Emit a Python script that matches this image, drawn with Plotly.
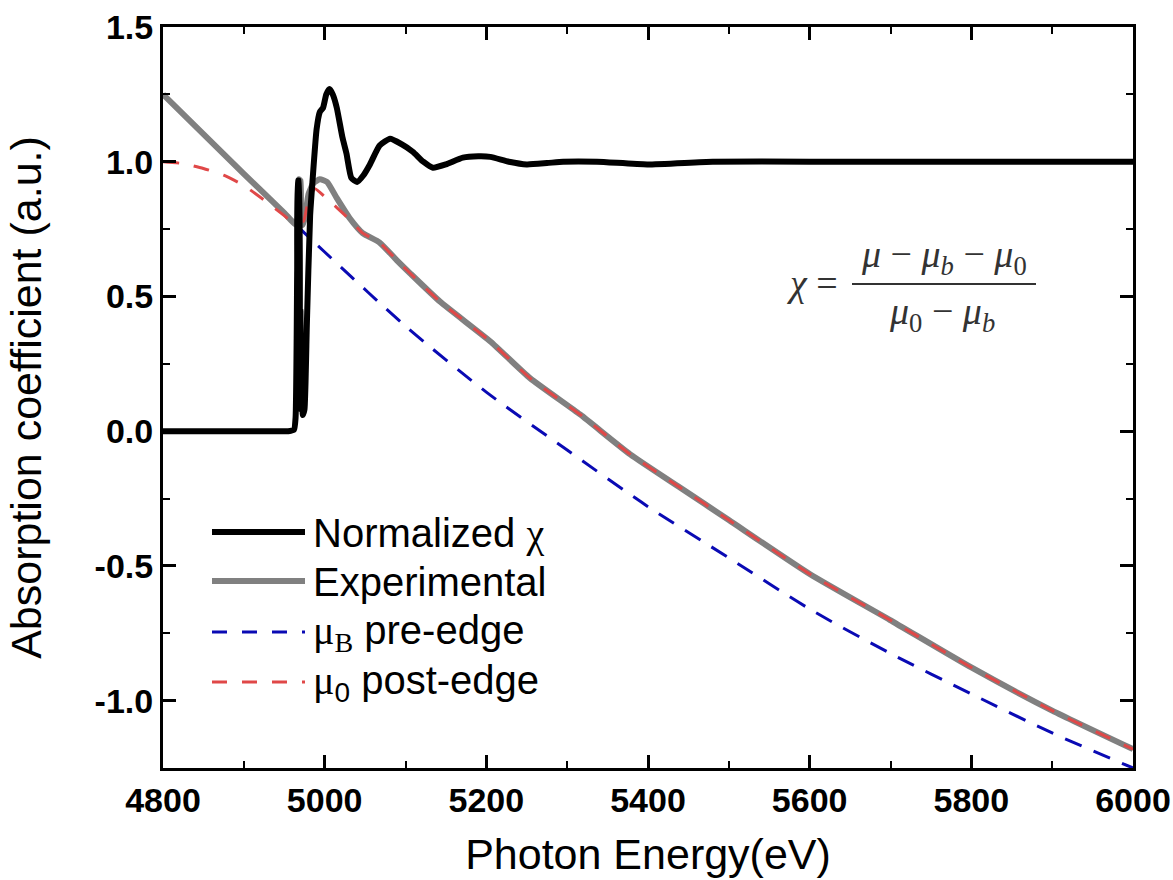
import plotly.graph_objects as go

# ---------------- data ----------------
energy_norm = [4800, 4900, 4955, 4962, 4964, 4966, 4967, 4968, 4969, 4970, 4971, 4972,
               4973, 4975, 4978, 4982, 4985, 4990, 4994, 4998, 5002, 5006, 5010, 5015,
               5022, 5027, 5033, 5040, 5048, 5056, 5068, 5081, 5095, 5109, 5122, 5134,
               5150, 5171, 5190, 5205, 5228, 5250, 5275, 5295, 5337, 5399, 5480, 5600,
               5700, 5800, 5900, 6000]
normalized_chi = [0.0, 0.0, 0.0, 0.005, 0.05, 0.6, 0.93, 0.93, 0.1, 0.45, 0.08, 0.35,
                  0.06, 0.08, 0.4, 0.8, 0.93, 1.12, 1.185, 1.2, 1.25, 1.27, 1.25, 1.2,
                  1.09, 1.03, 0.94, 0.925, 0.95, 0.99, 1.06, 1.085, 1.065, 1.037, 1.0, 0.978,
                  0.99, 1.015, 1.02, 1.018, 1.0, 0.99, 0.995, 1.0, 1.0, 0.99, 1.0, 1.0,
                  1.0, 1.0, 1.0, 1.0]

energy_exp = [4800, 4900, 4950, 4965, 4967, 4968, 4970, 4971, 4973, 4976, 4980, 4986,
              4994, 5003, 5015, 5031, 5047, 5068, 5089, 5106, 5143, 5205, 5254, 5316,
              5378, 5440, 5500, 5600, 5699, 5800, 5900, 6000]
experimental = [1.25, 0.955, 0.81, 0.765, 0.80, 0.935, 0.93, 0.78, 0.765, 0.80, 0.88, 0.92,
                0.935, 0.925, 0.865, 0.79, 0.735, 0.70, 0.635, 0.585, 0.48, 0.333, 0.197, 0.062,
                -0.086, -0.21, -0.33, -0.53, -0.70, -0.877, -1.037, -1.18]

energy_pre = [4800, 4900, 4970, 5000, 5100, 5200, 5300, 5400, 5500, 5600, 5700, 5800, 5900, 6000]
mu_b_pre_edge = [1.25, 0.955, 0.75, 0.665, 0.39, 0.145, -0.07, -0.28, -0.47, -0.66, -0.825,
                 -0.975, -1.12, -1.25]

energy_post = [4800, 4825, 4850, 4875, 4900, 4925, 4950, 4963, 4967, 4969, 4971, 4974,
               4980, 4988, 5000, 5015, 5031, 5047, 5068, 5089, 5106, 5143, 5205, 5254,
               5316, 5378, 5440, 5500, 5600, 5699, 5800, 5900, 6000]
mu_0_post_edge = [1.0, 0.993, 0.975, 0.95, 0.912, 0.858, 0.80, 0.77, 0.80, 0.84, 0.78, 0.78,
                  0.86, 0.90, 0.87, 0.83, 0.785, 0.735, 0.70, 0.635, 0.585, 0.48, 0.333, 0.197,
                  0.062, -0.086, -0.21, -0.33, -0.53, -0.70, -0.877, -1.037, -1.18]

x_ticks = [4800, 5000, 5200, 5400, 5600, 5800, 6000]
y_ticks = [-1.0, -0.5, 0.0, 0.5, 1.0, 1.5]
y_tick_labels = ["-1.0", "-0.5", "0.0", "0.5", "1.0", "1.5"]

legend_names = ["Normalized <span style='font-family:Liberation Serif'>χ</span>",
                "Experimental",
                "<span style='font-family:Liberation Serif'>μ<sub>B</sub></span> pre-edge",
                "<span style='font-family:Liberation Serif'>μ</span><sub>0</sub> post-edge"]

# ---------------- styles ----------------
BLACK = "#000000"
GRAY = "#808080"
BLUE = "#0a0ab4"
RED = "#e04848"

fig = go.Figure()
fig.add_trace(go.Scatter(x=energy_pre, y=mu_b_pre_edge, mode="lines",
                         line=dict(color=BLUE, width=3, dash="18px,13px", shape="spline",
                                   smoothing=0.8), showlegend=False))
fig.add_trace(go.Scatter(x=energy_exp, y=experimental, mode="lines",
                         line=dict(color=GRAY, width=6, shape="spline", smoothing=0.5),
                         showlegend=False))
fig.add_trace(go.Scatter(x=energy_post, y=mu_0_post_edge, mode="lines",
                         line=dict(color=RED, width=3, dash="16px,15px", shape="spline",
                                   smoothing=0.5), showlegend=False))
fig.add_trace(go.Scatter(x=energy_norm, y=normalized_chi, mode="lines",
                         line=dict(color=BLACK, width=6, shape="spline", smoothing=0.5),
                         showlegend=False))

# ---------------- manual legend (long line samples) ----------------
W, H = 1173, 880
L, R, T, B = 163, 40, 27, 112
pw, ph = W - L - R, H - T - B


def px(xp):
    return (xp - L) / pw


def py(yp):
    return (H - B - yp) / ph


legend_rows = [532, 581, 632, 682]
legend_styles = [dict(color=BLACK, width=6), dict(color=GRAY, width=6),
                 dict(color=BLUE, width=3, dash="15px,15px"),
                 dict(color=RED, width=3, dash="15px,15px")]
shapes = []
annotations = []
for yrow, st, name in zip(legend_rows, legend_styles, legend_names):
    shapes.append(dict(type="line", xref="paper", yref="paper",
                       x0=px(212), x1=px(305), y0=py(yrow), y1=py(yrow), line=st))
    annotations.append(dict(xref="paper", yref="paper", x=px(311), y=py(yrow + 1),
                            xanchor="left", yanchor="middle", showarrow=False, text=name,
                            font=dict(family="Liberation Sans, Arial", size=40, color="#000")))

# ---------------- formula ----------------
fcol = "#333333"
ffont = dict(family="Liberation Serif, DejaVu Serif", size=38, color=fcol)
annotations.append(dict(xref="paper", yref="paper", x=px(840), y=py(283), xanchor="right",
                        yanchor="middle", showarrow=False, text="<i>χ</i> =", font=ffont))
annotations.append(dict(xref="paper", yref="paper", x=px(944), y=py(257), xanchor="center",
                        yanchor="middle", showarrow=False,
                        text="<i>μ</i> − <i>μ<sub>b</sub></i> − <i>μ</i><sub>0</sub>", font=ffont))
annotations.append(dict(xref="paper", yref="paper", x=px(942), y=py(314), xanchor="center",
                        yanchor="middle", showarrow=False,
                        text="<i>μ</i><sub>0</sub> − <i>μ<sub>b</sub></i>", font=ffont))
shapes.append(dict(type="line", xref="paper", yref="paper", x0=px(852), x1=px(1036),
                   y0=py(284), y1=py(284), line=dict(color=fcol, width=2)))

tickfont = dict(family="Liberation Sans, Arial", size=34, color="#000", weight="bold")
titlefont = dict(family="Liberation Sans, Arial", size=43, color="#000")

fig.update_layout(
    width=W, height=H,
    margin=dict(l=L, r=R, t=T, b=B, autoexpand=False),
    paper_bgcolor="white", plot_bgcolor="white",
    shapes=shapes, annotations=annotations,
    showlegend=False,
    xaxis=dict(range=[4800, 6000], tickvals=x_ticks, ticktext=[str(v) for v in x_ticks],
               ticks="inside", ticklen=13, tickwidth=2.5, tickcolor="#000",
               showline=True, linecolor="#000", linewidth=3, mirror="ticks",
               showgrid=False, zeroline=False, tickfont=tickfont, automargin=False,
               minor=dict(dtick=100, ticks="inside", ticklen=7, tickwidth=2, tickcolor="#000",
                          showgrid=False),
               title=dict(text="Photon Energy(eV)", font=titlefont, standoff=22)),
    yaxis=dict(range=[-1.25, 1.5], tickvals=y_ticks, ticktext=y_tick_labels,
               ticks="inside", ticklen=13, tickwidth=2.5, tickcolor="#000",
               showline=True, linecolor="#000", linewidth=3, mirror="ticks",
               showgrid=False, zeroline=False, tickfont=tickfont, automargin=False,
               minor=dict(dtick=0.25, ticks="inside", ticklen=7, tickwidth=2, tickcolor="#000",
                          showgrid=False),
               title=dict(text="Absorption coefficient (a.u.)", font=titlefont, standoff=40)),
)

fig.write_html("out.html", config={"displayModeBar": False},
               post_script="document.body.style.margin='0px';")
